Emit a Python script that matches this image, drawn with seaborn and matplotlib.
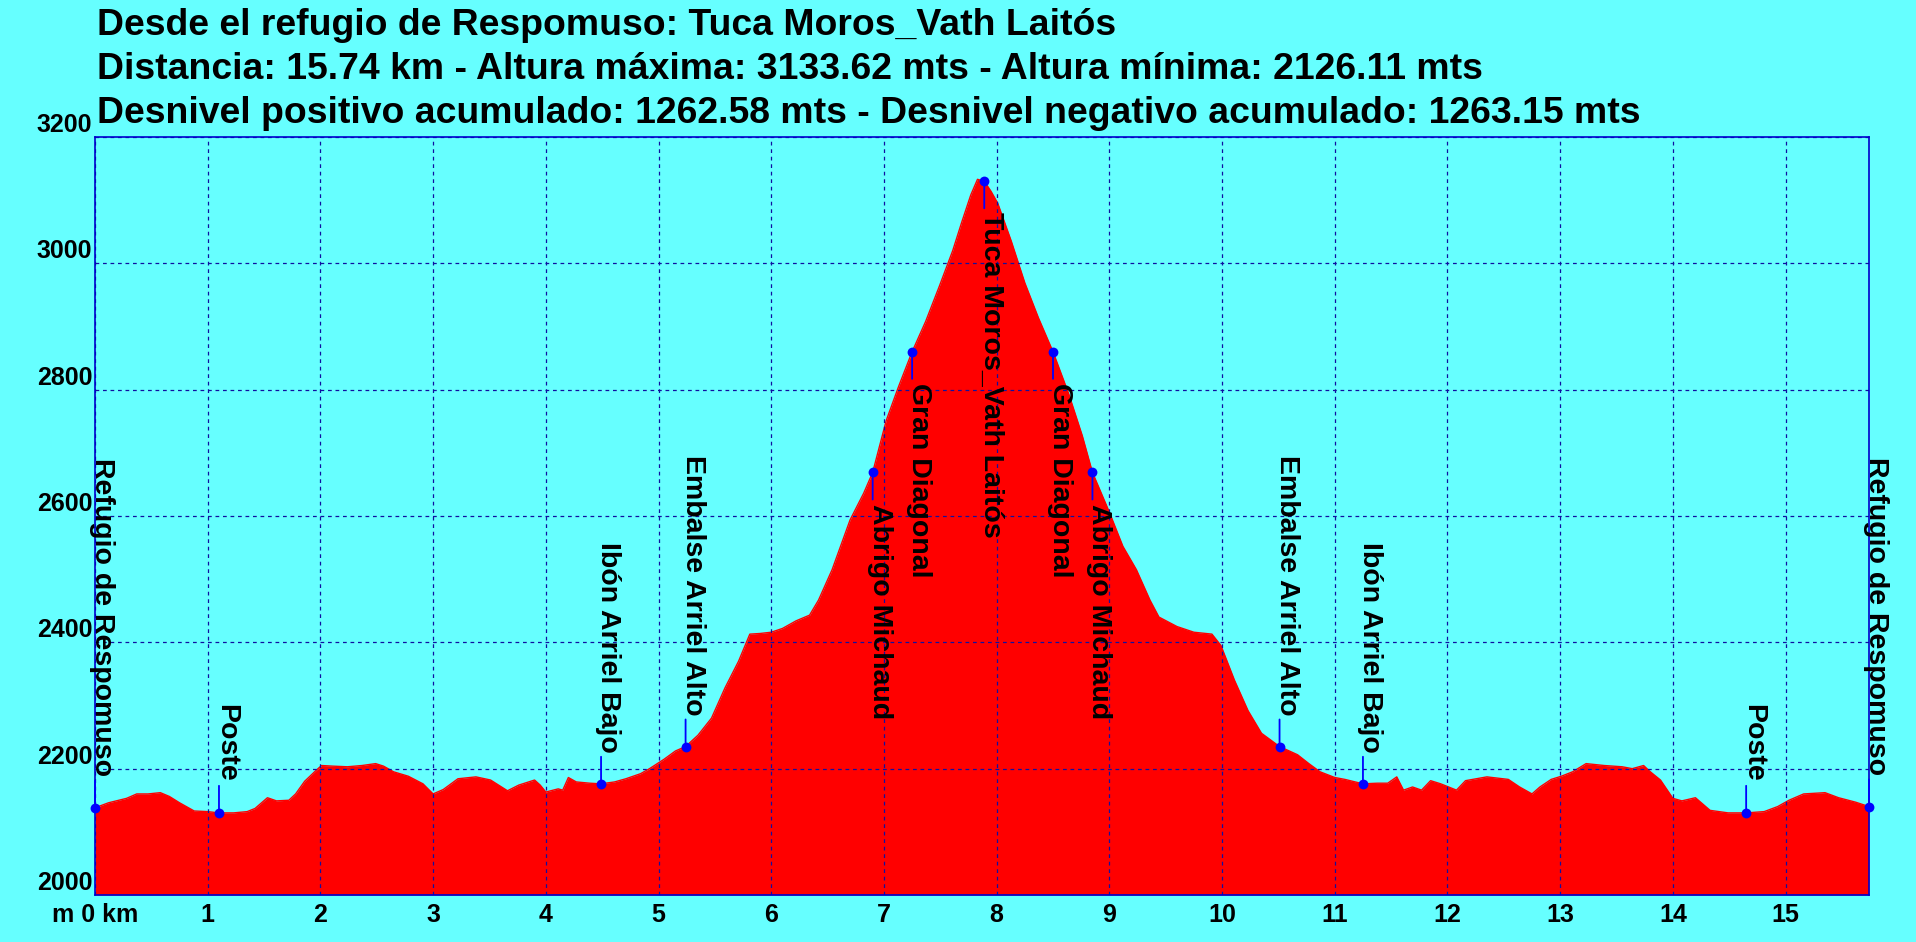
import numpy as np
import matplotlib
matplotlib.use("Agg")
import matplotlib.pyplot as plt
import seaborn as sns
import pandas as pd

# ---------------- data ----------------
title_lines = [
    "Desde el refugio de Respomuso: Tuca Moros_Vath Laitós",
    "Distancia: 15.74 km - Altura máxima: 3133.62 mts - Altura mínima: 2126.11 mts",
    "Desnivel positivo acumulado: 1262.58 mts - Desnivel negativo acumulado: 1263.15 mts",
]

prof_km = [0.00, 0.12, 0.28, 0.37, 0.47, 0.58, 0.66, 0.75, 0.88, 1.00, 1.10, 1.23, 1.35, 1.42,
           1.53, 1.61, 1.72, 1.78, 1.86, 1.96, 2.01, 2.11, 2.24, 2.37, 2.49, 2.56, 2.65, 2.78,
           2.91, 3.00, 3.09, 3.22, 3.38, 3.51, 3.66, 3.76, 3.90, 3.95, 4.00, 4.11, 4.15, 4.20,
           4.27, 4.39, 4.49, 4.61, 4.71, 4.84, 4.92, 5.05, 5.15, 5.24, 5.35, 5.47, 5.59, 5.71,
           5.81, 5.90, 6.00, 6.10, 6.22, 6.34, 6.42, 6.54, 6.70, 6.82, 6.90, 7.02, 7.13, 7.25,
           7.37, 7.49, 7.61, 7.69, 7.77, 7.83, 7.89, 7.95, 8.01, 8.13, 8.25, 8.37, 8.50, 8.64,
           8.76, 8.85, 9.00, 9.12, 9.24, 9.36, 9.44, 9.60, 9.75, 9.91, 9.99, 10.11, 10.23, 10.35,
           10.51, 10.67, 10.77, 10.87, 11.00, 11.09, 11.25, 11.38, 11.47, 11.55, 11.61, 11.69,
           11.77, 11.85, 11.94, 12.08, 12.16, 12.35, 12.54, 12.64, 12.75, 12.82, 12.92, 13.01,
           13.11, 13.23, 13.39, 13.55, 13.64, 13.74, 13.80, 13.89, 14.00, 14.08, 14.20, 14.33,
           14.49, 14.65, 14.81, 14.93, 15.03, 15.16, 15.35, 15.47, 15.62, 15.74]

prof_elev = [2138, 2146, 2153, 2160, 2160, 2162, 2156, 2146, 2133, 2132, 2130, 2130, 2132, 2137,
             2154, 2149, 2150, 2160, 2180, 2197, 2205, 2204, 2203, 2205, 2208, 2204, 2195, 2188,
             2176, 2160, 2167, 2184, 2187, 2182, 2165, 2174, 2182, 2174, 2163, 2168, 2166, 2186,
             2179, 2177, 2176, 2179, 2184, 2192, 2200, 2215, 2228, 2235, 2253, 2280, 2328, 2370,
             2413, 2414, 2416, 2422, 2434, 2443, 2467, 2515, 2594, 2636, 2669, 2751, 2805, 2860,
             2908, 2963, 3020, 3065, 3108, 3133, 3130, 3114, 3095, 3035, 2969, 2914, 2860, 2793,
             2727, 2669, 2606, 2552, 2515, 2467, 2440, 2425, 2416, 2413, 2395, 2340, 2292, 2256,
             2235, 2222, 2208, 2195, 2186, 2183, 2176, 2177, 2177, 2187, 2166, 2171,
             2166, 2181, 2176, 2166, 2181, 2187, 2183, 2171, 2160, 2171, 2183, 2188,
             2195, 2208, 2205, 2203, 2200, 2205, 2195, 2182, 2153, 2149, 2154, 2134,
             2130, 2130, 2132, 2140, 2150, 2160, 2162, 2154, 2147, 2140]

wp_names = ["Refugio de Respomuso", "Poste", "Ibón Arriel Bajo", "Embalse Arriel Alto",
            "Abrigo Michaud", "Gran Diagonal", "Tuca Moros_Vath Laitós", "Gran Diagonal",
            "Abrigo Michaud", "Embalse Arriel Alto", "Ibón Arriel Bajo", "Poste",
            "Refugio de Respomuso"]
wp_km = [0.0, 1.10, 4.49, 5.24, 6.90, 7.25, 7.89, 8.50, 8.85, 10.51, 11.25, 14.65, 15.74]

x_ticks = list(range(0, 16))
x_labels = ["m 0 km"] + [str(k) for k in range(1, 16)]
y_ticks = list(range(2000, 3201, 200))

# ---------------- style ----------------
BG = "#66FFFF"
RED = "#FF0000"
BLUE = "#0000FF"
GRID = "#1010A0"

sns.set_theme(style="white")
plt.rcParams["font.family"] = ["Liberation Sans", "DejaVu Sans"]
plt.rcParams["font.weight"] = "bold"

W, H = 1916, 942
fig = plt.figure(figsize=(W / 100, H / 100), dpi=100, facecolor=BG)
ax = fig.add_axes([95 / W, 47 / H, 1774 / W, 758 / H], facecolor=BG)

df = pd.DataFrame({"km": prof_km, "elev": prof_elev})
ax.fill_between(df["km"], 2000, df["elev"], color=RED, linewidth=0, zorder=2)
sns.lineplot(data=df, x="km", y="elev", color=RED, linewidth=1, ax=ax, zorder=2)

ax.set_xlim(0, 15.74)
ax.set_ylim(2000, 3200)
ax.set_xticks(x_ticks)
ax.set_xticklabels(x_labels)
ax.set_yticks(y_ticks)
ax.set_xlabel("")
ax.set_ylabel("")
ax.tick_params(axis="both", length=0, labelsize=18, colors="black")
ax.tick_params(axis="x", pad=6)
ax.tick_params(axis="y", pad=2)
for lab in ax.get_yticklabels():
    lab.set_verticalalignment("bottom")
    lab.set_fontweight("bold")
for lab in ax.get_xticklabels():
    lab.set_fontweight("bold")

ax.grid(True, color=GRID, linestyle=(0, (3, 3)), linewidth=0.9, zorder=3)
ax.set_axisbelow(False)
for sp in ax.spines.values():
    sp.set_color("#0000CC")
    sp.set_linewidth(1.2)
    sp.set_zorder(5)

# waypoints
wp_elev = np.interp(wp_km, prof_km, prof_elev)
wdf = pd.DataFrame({"km": wp_km, "elev": wp_elev})
mid = (ax.get_ylim()[0] + ax.get_ylim()[1]) / 2
for name, xk, ye in zip(wp_names, wp_km, wp_elev):
    above = ye < mid
    s = 1 if above else -1
    ax.annotate("", xy=(xk, ye), xytext=(0, s * 19.5), textcoords="offset points",
                arrowprops=dict(arrowstyle="-", color=BLUE, lw=1.3, shrinkA=0, shrinkB=0),
                annotation_clip=False, zorder=6)
    ax.annotate(name, xy=(xk, ye), xytext=(0, s * 22.5), textcoords="offset points",
                rotation=-90, rotation_mode="anchor",
                ha="right" if above else "left", va="baseline",
                fontsize=20.5, fontweight="bold", color="black",
                annotation_clip=False, zorder=7)
sns.scatterplot(data=wdf, x="km", y="elev", color=BLUE, s=50, edgecolor=BLUE,
                linewidth=0, ax=ax, zorder=8, clip_on=False)
ax.set_xlabel("")
ax.set_ylabel("")

# titles
base_y = [35, 79, 123]
for line, by in zip(title_lines, base_y):
    fig.text(97 / W, 1 - by / H, line, fontsize=26.9, fontweight="bold",
             color="black", va="baseline", ha="left")

fig.savefig("out.png", dpi=100, facecolor=BG)
